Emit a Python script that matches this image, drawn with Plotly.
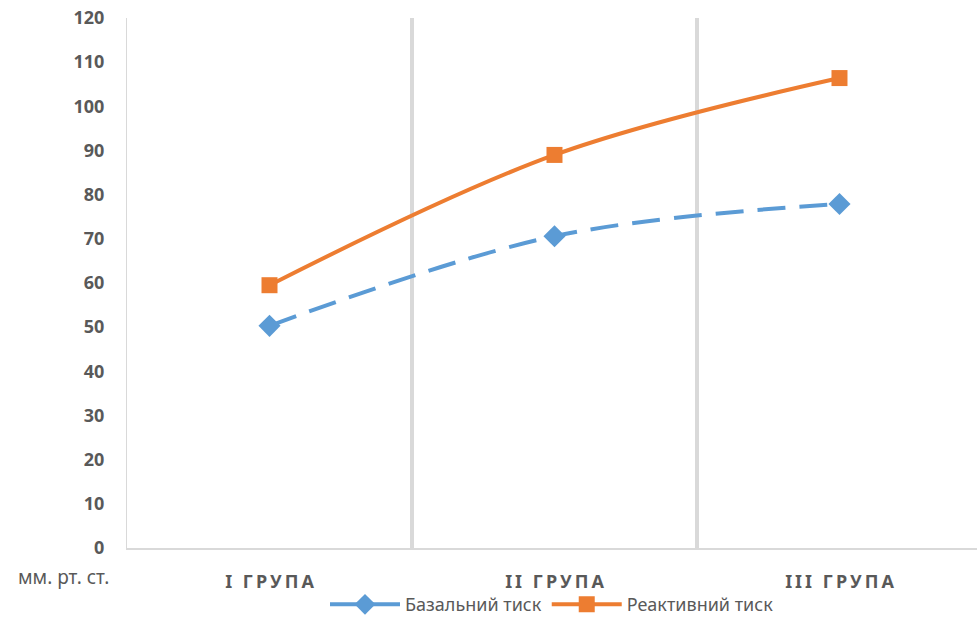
import plotly.graph_objects as go

# Groups and measured pressure (mm Hg)
groups = ["I ГРУПА", "II ГРУПА", "III ГРУПА"]
basal = [50.3, 70.6, 77.9]
reactive = [59.5, 89.0, 106.4]
y_ticks = list(range(0, 121, 10))

BLUE = "#5B9BD5"
ORANGE = "#ED7D31"
GREY = "#595959"
FONT = "Liberation Sans Narrow, Noto Sans, sans-serif"


def spaced(label):
    # widen the category labels with thin spaces between letters
    return "\u2009".join(label)


xs = list(range(len(groups)))

fig = go.Figure()
fig.add_trace(go.Scatter(
    x=xs, y=basal, name="Базальний тиск", mode="lines+markers",
    line=dict(color=BLUE, width=4, dash="28px,14px", shape="spline", smoothing=1),
    marker=dict(symbol="diamond", size=17, color=BLUE),
))
fig.add_trace(go.Scatter(
    x=xs, y=reactive, name="Реактивний тиск", mode="lines+markers",
    line=dict(color=ORANGE, width=4, shape="spline", smoothing=1),
    marker=dict(symbol="square", size=16, color=ORANGE),
))

# vertical separators between groups
for b in [0.5, 1.5]:
    fig.add_shape(type="line", xref="x", yref="y", x0=b, x1=b, y0=0, y1=120,
                  line=dict(color="#D9D9D9", width=4), layer="below")

fig.add_annotation(text="мм. рт. ст.", xref="paper", yref="paper",
                   x=-0.075, y=-0.055, xanchor="center", yanchor="middle",
                   showarrow=False, font=dict(family=FONT, size=19, color=GREY))

fig.update_layout(
    width=977, height=617,
    margin=dict(l=127, r=0, t=18, b=69, autoexpand=False),
    paper_bgcolor="white", plot_bgcolor="white",
    font=dict(family=FONT, color=GREY),
    showlegend=True,
    legend=dict(orientation="h", x=0.5, xanchor="center",
                yref="container", y=0.02, yanchor="middle",
                bgcolor="rgba(0,0,0,0)",
                font=dict(family=FONT, size=18, color=GREY), itemwidth=70,
                tracegroupgap=0),
    xaxis=dict(
        range=[-0.5, 2.4825], tickmode="array", tickvals=xs,
        ticktext=[spaced(g) for g in groups], automargin=False,
        showgrid=False, zeroline=False, showline=True, linecolor="#D9D9D9", linewidth=2,
        ticks="", ticklabelstandoff=16,
        tickfont=dict(family=FONT, size=18, color=GREY, weight="bold"),
    ),
    yaxis=dict(
        range=[0, 120], tickmode="array", tickvals=y_ticks, automargin=False,
        showgrid=False, zeroline=False, showline=True, linecolor="#D9D9D9", linewidth=1,
        ticks="", ticklabelstandoff=18,
        tickfont=dict(family=FONT, size=18, color=GREY, weight="bold"),
    ),
)

fig.write_html("out.html")
